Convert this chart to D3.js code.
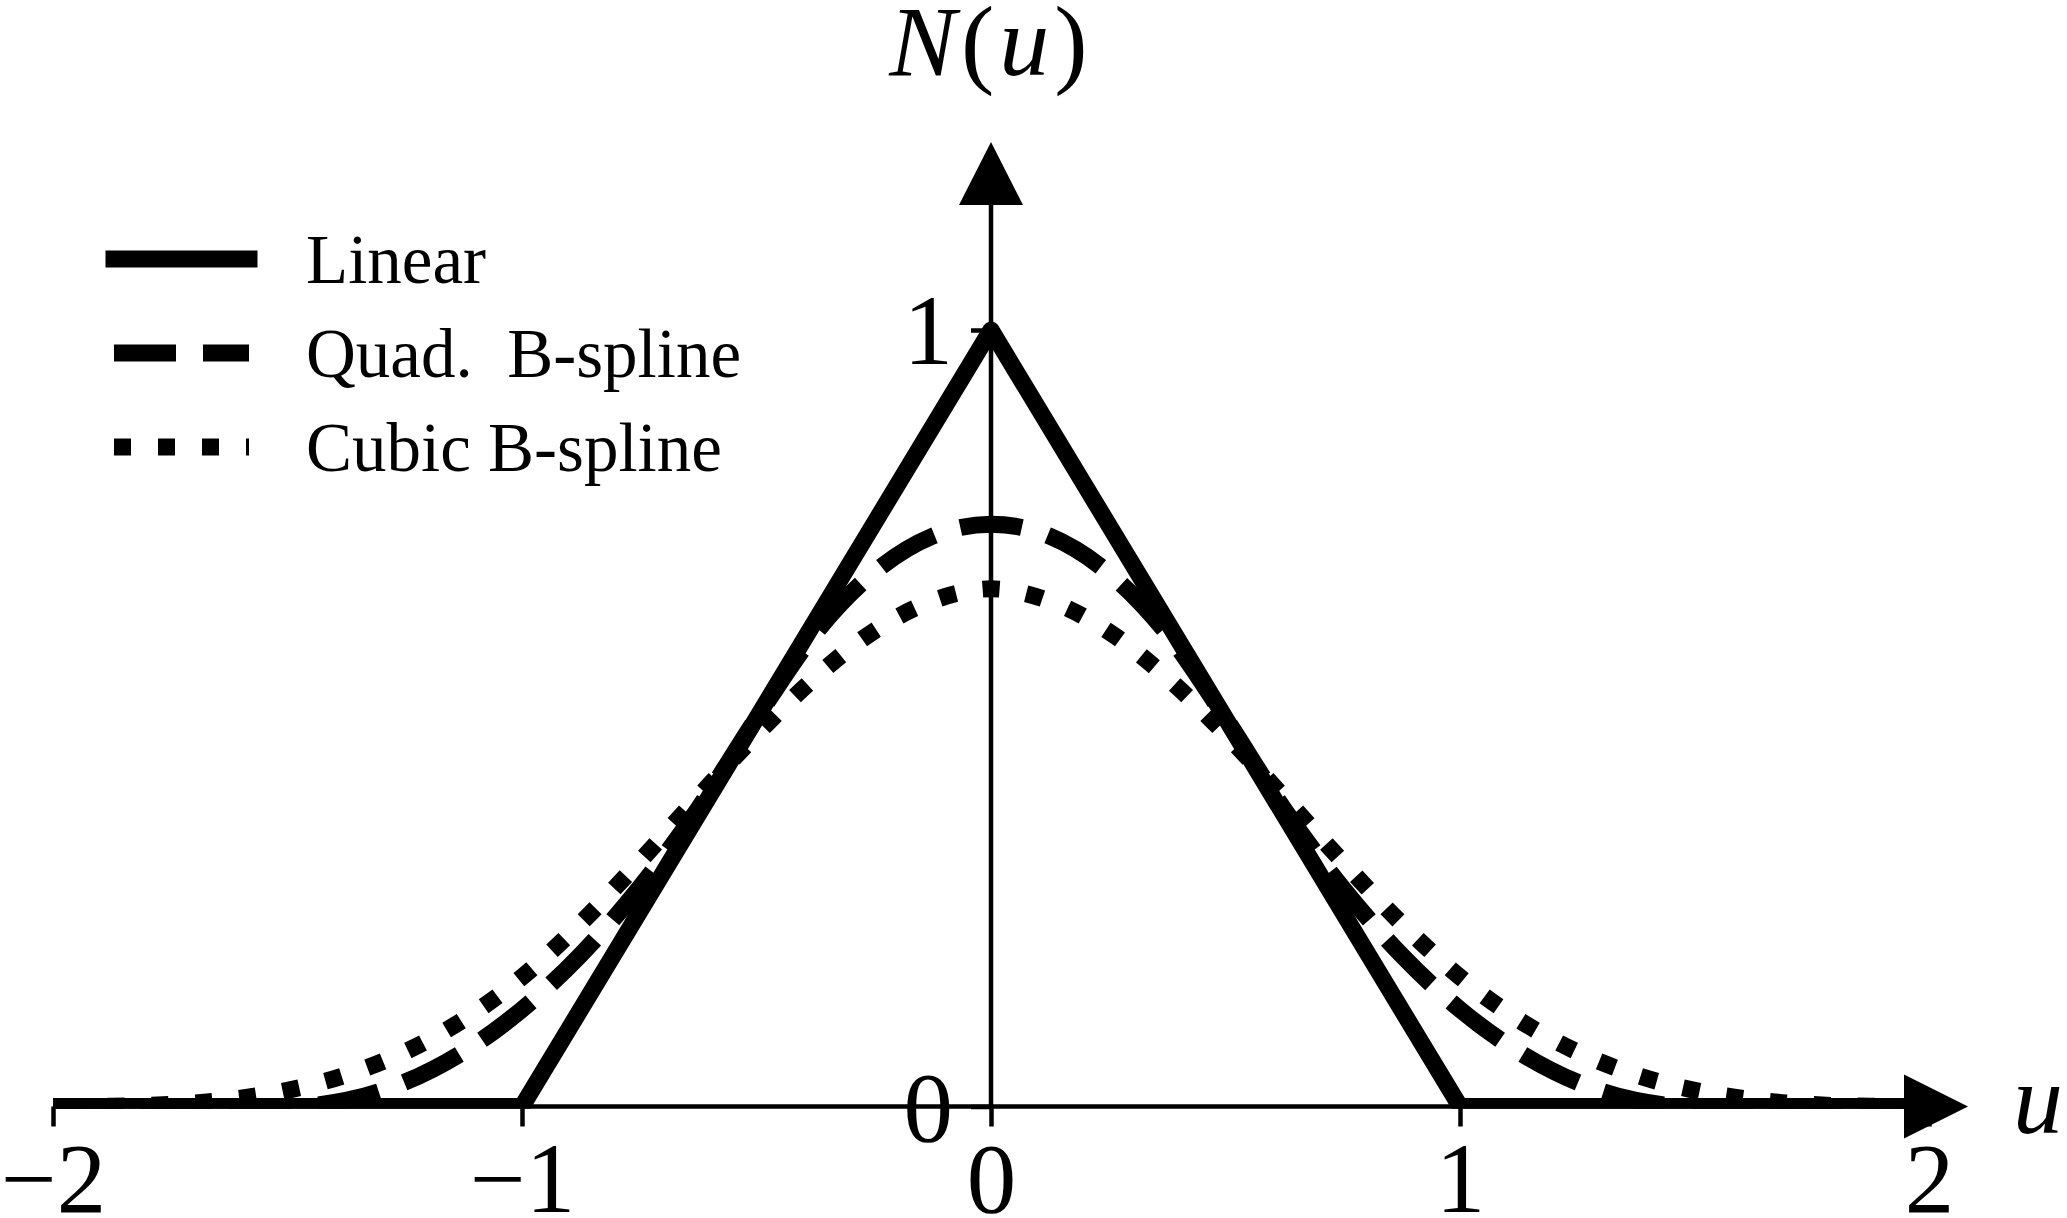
<!DOCTYPE html>
<html lang="en">
<head>
  <meta charset="UTF-8" />
  <title>B-spline basis functions</title>
  <style>
    body { margin: 0; background: #fff; }
    svg { display: block; }
    text { font-family: 'Liberation Serif', 'Times New Roman', serif; fill: #000; }
    .axis line, .axis path { stroke: #000; stroke-width: 4.5px; }
    .curve { fill: none; stroke: #000; stroke-width: 17px; stroke-linejoin: round; }
  </style>
</head>
<body>
  <svg id="chart"></svg>

  <script src="https://d3js.org/d3.v7.min.js"></script>
  <script>
    // data
    const xTicks = [-2, -1, 0, 1, 2];
    const yTicks = [0, 1];

    const linearU = [-2, -1, 0, 1, 2];
    const linearN = [0, 0, 1, 0, 0];

    const splineU = [-2, -1.875, -1.75, -1.625, -1.5, -1.375, -1.25, -1.125, -1,
      -0.875, -0.75, -0.625, -0.5, -0.375, -0.25, -0.125, 0,
      0.125, 0.25, 0.375, 0.5, 0.625, 0.75, 0.875, 1,
      1.125, 1.25, 1.375, 1.5, 1.625, 1.75, 1.875, 2];
    const quadN = [0, 0, 0, 0, 0, 0.0078, 0.0313, 0.0703, 0.125,
      0.1953, 0.2813, 0.3828, 0.5, 0.6094, 0.6875, 0.7344, 0.75,
      0.7344, 0.6875, 0.6094, 0.5, 0.3828, 0.2813, 0.1953, 0.125,
      0.0703, 0.0313, 0.0078, 0, 0, 0, 0, 0];
    const cubicN = [0, 0.0003, 0.0026, 0.0088, 0.0208, 0.0407, 0.0703, 0.1117, 0.1667,
      0.2360, 0.3151, 0.3981, 0.4792, 0.5524, 0.6120, 0.6510, 0.6667,
      0.6510, 0.6120, 0.5524, 0.4792, 0.3981, 0.3151, 0.2360, 0.1667,
      0.1117, 0.0703, 0.0407, 0.0208, 0.0088, 0.0026, 0.0003, 0];

    const seriesNames = ["Linear", "Quad.  B-spline", "Cubic B-spline"];

    const width = 2067, height = 1218;
    const svg = d3.select("#chart").attr("width", width).attr("height", height);

    const x = d3.scaleLinear().domain([-2, 2]).range([53, 1929]);
    const y = d3.scaleLinear().domain([0, 1]).range([1106.5, 330]);

    const fmt = d => d < 0 ? "\u2212" + Math.abs(d) : String(d);

    // clip so the thick curves don't spill under the u axis
    svg.append("clipPath").attr("id", "clip")
      .append("rect").attr("x", 0).attr("y", 0)
      .attr("width", width).attr("height", y(0) + 2.3);

    const plot = svg.append("g").attr("clip-path", "url(#clip)");

    const line = d3.line().x(d => x(d[0])).y(d => y(d[1]));
    const smooth = d3.line().x(d => x(d[0])).y(d => y(d[1])).curve(d3.curveMonotoneX);

    const dashQuad = [62, 27], dashCubic = [17, 27];

    plot.append("path").attr("class", "curve")
      .attr("d", line(linearU.map((u, i) => [u, linearN[i]])));

    function dashed(vals, pattern) {
      const p = plot.append("path").attr("class", "curve")
        .attr("d", smooth(splineU.map((u, i) => [u, vals[i]])))
        .attr("stroke-dasharray", pattern.join(" "));
      // centre one dash on the peak
      const L = p.node().getTotalLength();
      p.attr("stroke-dashoffset", pattern[0] / 2 - L / 2);
    }
    dashed(quadN, dashQuad);
    dashed(cubicN, dashCubic);

    // x axis
    const xAxis = svg.append("g").attr("class", "axis")
      .attr("transform", `translate(0,${y(0)})`)
      .call(d3.axisBottom(x).tickValues(xTicks).tickSize(20).tickSizeOuter(0).tickFormat(fmt));
    xAxis.select(".domain").remove();
    xAxis.selectAll(".tick text").attr("y", 105).attr("dy", 0)
      .attr("font-size", 99).attr("font-family", null);

    const xEnd = x(2) + 39;
    svg.append("line").attr("x1", x(-2)).attr("x2", xEnd - 30)
      .attr("y1", y(0)).attr("y2", y(0))
      .attr("stroke", "#000").attr("stroke-width", 4.5);
    svg.append("path")
      .attr("d", `M${xEnd},${y(0)} L${xEnd - 64},${y(0) - 32} L${xEnd - 64},${y(0) + 32} Z`)
      .attr("fill", "#000");
    svg.append("text").attr("x", xEnd + 45).attr("y", y(0) + 26)
      .attr("font-size", 100).attr("font-style", "italic").text("u");

    // y axis
    const yAxis = svg.append("g").attr("class", "axis")
      .attr("transform", `translate(${x(0)},0)`)
      .call(d3.axisLeft(y).tickValues(yTicks).tickSize(20).tickSizeOuter(0).tickFormat(fmt));
    yAxis.select(".domain").remove();
    yAxis.selectAll(".tick text").attr("x", -38).attr("dy", "0.34em")
      .attr("font-size", 99).attr("font-family", null);

    const yTop = y(1) - 188;
    svg.append("line").attr("x1", x(0)).attr("x2", x(0))
      .attr("y1", y(0)).attr("y2", yTop + 30)
      .attr("stroke", "#000").attr("stroke-width", 4.5);
    svg.append("path")
      .attr("d", `M${x(0)},${yTop} L${x(0) - 32},${yTop + 63} L${x(0) + 32},${yTop + 63} Z`)
      .attr("fill", "#000");

    const yLabel = svg.append("text").attr("x", x(0)).attr("y", 75)
      .attr("text-anchor", "middle").attr("font-size", 100)
      .attr("letter-spacing", 5);
    yLabel.append("tspan").attr("font-style", "italic").text("N");
    yLabel.append("tspan").text("(");
    yLabel.append("tspan").attr("font-style", "italic").text("u");
    yLabel.append("tspan").text(")");

    // legend
    const legend = svg.append("g").attr("transform", "translate(114,259)");
    const patterns = [null, dashQuad, dashCubic];
    seriesNames.forEach((name, i) => {
      const row = legend.append("g").attr("transform", `translate(0,${i * 94})`);
      row.append("line").attr("x1", 0).attr("x2", 135).attr("y1", 0).attr("y2", 0)
        .attr("stroke", "#000").attr("stroke-width", 17)
        .attr("stroke-linecap", i === 0 ? "square" : "butt")
        .attr("stroke-dasharray", patterns[i] ? patterns[i].join(" ") : null);
      row.append("text").attr("x", 192).attr("y", 24)
        .attr("font-size", 69).attr("xml:space", "preserve")
        .style("white-space", "pre").text(name);
    });
  </script>
</body>
</html>
